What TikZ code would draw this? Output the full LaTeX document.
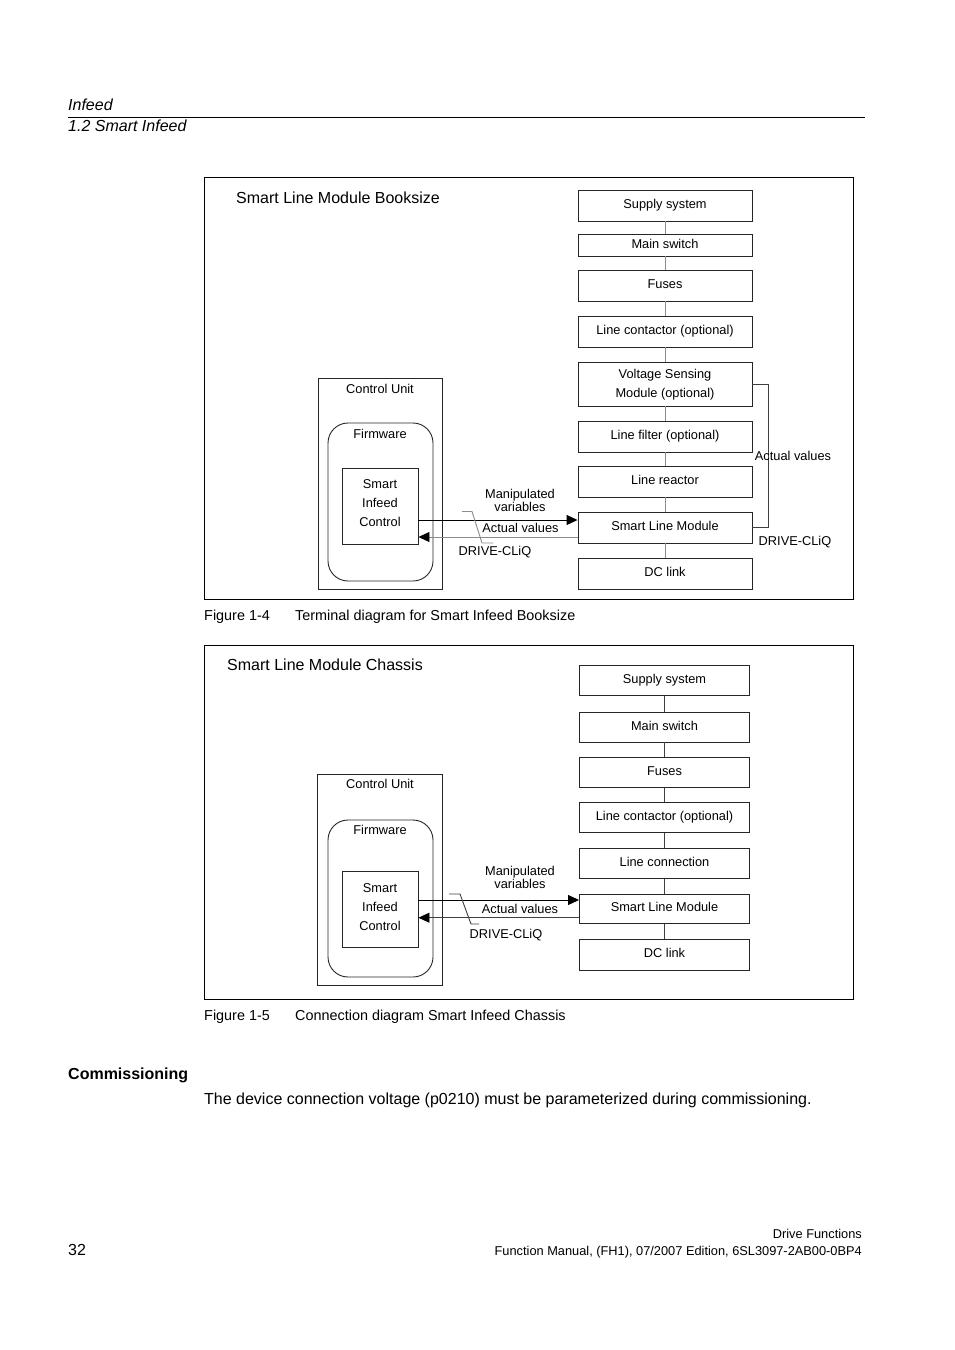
\documentclass[tikz,border=0pt]{standalone}
\usepackage{fontspec}
\setmainfont{Liberation Sans}
\usetikzlibrary{arrows.meta}
\newcommand\smfont{\fontsize{12.8pt}{15pt}\selectfont}
\newcommand\capfont{\fontsize{14.4pt}{17pt}\selectfont}
\newcommand\bigfont{\fontsize{16pt}{19pt}\selectfont}
\begin{document}
\begin{tikzpicture}[x=1pt,y=-1pt,
  frame/.style={draw=black, line width=0.9pt, inner sep=0pt},
  bx/.style={draw=black!85, line width=0.9pt, inner sep=0pt, font=\smfont, text height=9.2pt, text depth=3pt},
  rbox/.style={bx, minimum width=174pt},
  rboxb/.style={bx, minimum width=170pt},
  tx/.style={anchor=base, inner sep=0pt, font=\smfont},
  conn/.style={draw=black!45, line width=0.9pt},
  connd/.style={draw=black!75, line width=0.9pt},
  tip/.style={-{Triangle[length=11pt,width=10pt,black]}}
]
\useasboundingbox[fill=white] (0,0) rectangle (954,1350);

% ---------- page header ----------
\node[tx, anchor=base west, font=\bigfont\itshape] (h1) at (68,110) {Infeed};
\coordinate (rl) at (68,117);
\coordinate (rr) at (865,117);
\draw[black, line width=0.9pt] (rl) -- (rr);
\node[tx, anchor=base west, font=\bigfont\itshape] (h2) at (68,131) {1.2 Smart Infeed};

% ---------- Figure 1-4 ----------
\node[frame, minimum width=649pt, minimum height=422pt] (f1) at (528.5,388) {};
\node[tx, anchor=base west, font=\bigfont] (ti1) at (236,203.5) {Smart Line Module Booksize};

\node[rbox, minimum height=31pt] (a1) at (665,205.5) {Supply system};
\node[rbox, minimum height=22pt] (a2) at (665,245) {Main switch};
\node[rbox, minimum height=31pt] (a3) at (665,285.5) {Fuses};
\node[rbox, minimum height=31pt] (a4) at (665,331.5) {Line contactor (optional)};
\node[rbox, minimum height=44pt] (a5) at (665,384) {};
\node[tx] (a5t1) at (665,378.6) {Voltage Sensing};
\node[tx] (a5t2) at (665,397.6) {Module (optional)};
\node[rbox, minimum height=31pt] (a6) at (665,436.5) {Line filter (optional)};
\node[rbox, minimum height=31pt] (a7) at (665,481.5) {Line reactor};
\node[rbox, minimum height=31pt] (a8) at (665,527.5) {Smart Line Module};
\node[rbox, minimum height=31pt] (a9) at (665,573.5) {DC link};
\draw[conn] (a1) -- (a2);
\draw[conn] (a2) -- (a3);
\draw[conn] (a3) -- (a4);
\draw[conn] (a4) -- (a5);
\draw[conn] (a5) -- (a6);
\draw[conn] (a6) -- (a7);
\draw[conn] (a7) -- (a8);
\draw[conn] (a8) -- (a9);

\draw[connd] (a5.east) -- ++(15.5,0) |- (a8.east);
\node[tx] (av1r) at (793,460.6) {Actual values};
\node[tx] (dc1r) at (795,545.6) {DRIVE-CLiQ};

\node[bx, minimum width=124pt, minimum height=211pt] (cu1) at (380,483.5) {};
\node[tx] (cu1t) at (380,393.6) {Control Unit};
\node[bx, rounded corners=20pt, minimum width=105pt, minimum height=158pt] (fw1) at (380.5,502) {};
\node[tx] (fw1t) at (380,438.6) {Firmware};
\node[bx, minimum width=76pt, minimum height=76pt] (sic1) at (380,506) {};
\node[tx] (sic1a) at (380,488.6) {Smart};
\node[tx] (sic1b) at (380,507.6) {Infeed};
\node[tx] (sic1c) at (380,526.6) {Control};

\draw[black, line width=0.9pt, tip] ([yshift=-14pt]sic1.east) -- ([yshift=-14pt]sic1.east -| a8.west);
\draw[conn, tip] ([yshift=-9.5pt]a8.west) -- ([yshift=-9.5pt]a8.west -| sic1.east);
\node[tx] (mv1a) at (520,498.6) {Manipulated};
\node[tx] (mv1b) at (520,511.6) {variables};
\node[tx] (av1) at (520.5,532.6) {Actual values};
\node[tx] (dc1) at (495,555.6) {DRIVE-CLiQ};
\coordinate (l1a) at (462,511.5);
\coordinate (l1b) at (472,511.5);
\coordinate (l1c) at (482,543);
\coordinate (l1d) at (493,543);
\draw[conn] (l1a) -- (l1b) -- (l1c) -- (l1d);

\node[tx, anchor=base west, font=\capfont] (c1a) at (204,620) {Figure 1-4};
\node[tx, anchor=base west, font=\capfont] (c1b) at (295,620) {Terminal diagram for Smart Infeed Booksize};

% ---------- Figure 1-5 ----------
\node[frame, minimum width=649pt, minimum height=354pt] (f2) at (528.5,822) {};
\node[tx, anchor=base west, font=\bigfont] (ti2) at (227,670.5) {Smart Line Module Chassis};

\node[rboxb, minimum height=30.5pt] (b1) at (664.5,680.3) {Supply system};
\node[rboxb, minimum height=30pt] (b2) at (664.5,727) {Main switch};
\node[rboxb, minimum height=29.5pt] (b3) at (664.5,772.3) {Fuses};
\node[rboxb, minimum height=29.5pt] (b4) at (664.5,817.5) {Line contactor (optional)};
\node[rboxb, minimum height=30pt] (b5) at (664.5,863.3) {Line connection};
\node[rboxb, minimum height=29.5pt] (b6) at (664.5,908.7) {Smart Line Module};
\node[rboxb, minimum height=30.5pt] (b7) at (664.5,954.7) {DC link};
\draw[connd] (b1) -- (b2);
\draw[connd] (b2) -- (b3);
\draw[connd] (b3) -- (b4);
\draw[connd] (b4) -- (b5);
\draw[connd] (b5) -- (b6);
\draw[connd] (b6) -- (b7);

\node[bx, minimum width=125pt, minimum height=211pt] (cu2) at (380,879.5) {};
\node[tx] (cu2t) at (380,788.6) {Control Unit};
\node[bx, rounded corners=20pt, minimum width=105pt, minimum height=157pt] (fw2) at (380.5,898.5) {};
\node[tx] (fw2t) at (380,834.6) {Firmware};
\node[bx, minimum width=76pt, minimum height=76pt] (sic2) at (380,909) {};
\node[tx] (sic2a) at (380,892.6) {Smart};
\node[tx] (sic2b) at (380,911.6) {Infeed};
\node[tx] (sic2c) at (380,930.6) {Control};

\draw[black, line width=0.9pt, tip] ([yshift=9pt]sic2.east) -- ([yshift=9pt]sic2.east -| b6.west);
\draw[connd, tip] ([yshift=-9pt]b6.west) -- ([yshift=-9pt]b6.west -| sic2.east);
\node[tx] (mv2a) at (520,875.6) {Manipulated};
\node[tx] (mv2b) at (520,888.6) {variables};
\node[tx] (av2) at (520,913.6) {Actual values};
\node[tx] (dc2) at (506,938.6) {DRIVE-CLiQ};
\coordinate (l2a) at (449,894);
\coordinate (l2b) at (460,894);
\coordinate (l2c) at (471,924);
\coordinate (l2d) at (479,924);
\draw[connd] (l2a) -- (l2b) -- (l2c) -- (l2d);

\node[tx, anchor=base west, font=\capfont] (c2a) at (204,1020) {Figure 1-5};
\node[tx, anchor=base west, font=\capfont] (c2b) at (295,1020) {Connection diagram Smart Infeed Chassis};

% ---------- text ----------
\node[tx, anchor=base west, font=\bigfont\bfseries] (cm) at (68,1079) {Commissioning};
\node[tx, anchor=base west, font=\bigfont] (body) at (204,1104.7) {The device connection voltage (p0210) must be parameterized during commissioning.};

% ---------- footer ----------
\node[tx, anchor=base west, font=\bigfont] (pg) at (68,1255.5) {32};
\node[tx, anchor=base east] (ft1) at (862,1238.6) {Drive Functions};
\node[tx, anchor=base east] (ft2) at (862,1255.6) {Function Manual, (FH1), 07/2007 Edition, 6SL3097-2AB00-0BP4};
\end{tikzpicture}
\end{document}
